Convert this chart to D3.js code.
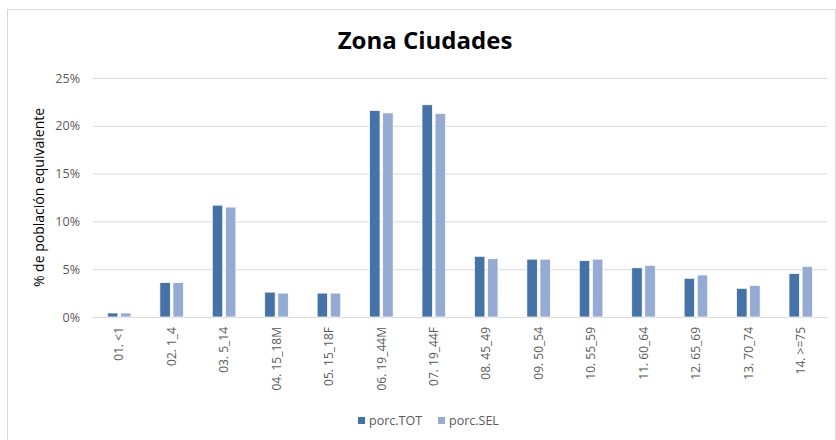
<!DOCTYPE html>
<html>
<head>
<meta charset="utf-8">
<script src="https://cdn.jsdelivr.net/npm/d3@7"></script>
<style>
  body { margin: 0; background: #fff; }
  svg text { font-family: "Open Sans", "Liberation Sans", sans-serif; }
</style>
</head>
<body>
<div class="chart"></div>
<script>
const width = 836;
const height = 440;

const categories = ["01. <1", "02. 1_4", "03. 5_14", "04. 15_18M", "05. 15_18F", "06. 19_44M", "07. 19_44F",
    "08. 45_49", "09. 50_54", "10. 55_59", "11. 60_64", "12. 65_69", "13. 70_74", "14. >=75"];
const porcTOT = [0.42, 3.6, 11.7, 2.6, 2.5, 21.6, 22.2, 6.35, 6.05, 5.9, 5.15, 4.05, 3.0, 4.55];
const porcSEL = [0.42, 3.6, 11.5, 2.5, 2.5, 21.35, 21.3, 6.1, 6.05, 6.05, 5.4, 4.4, 3.3, 5.3];
const seriesNames = ["porc.TOT", "porc.SEL"];
const colors = ["#4573a7", "#95abd3"];
const yTicks = [0, 5, 10, 15, 20, 25];

const margin = {top: 78, right: 9, bottom: 123, left: 93};

let svg = d3.select(".chart")
    .append("svg")
    .attr("width", width)
    .attr("height", height);

// outer frame
svg.append("rect")
    .attr("x", 7.5).attr("y", 9.5)
    .attr("width", width - 8).attr("height", height - 8)
    .attr("fill", "none").attr("stroke", "#d9d9d9");

let x = d3.scaleBand()
    .domain(categories)
    .range([margin.left, width - margin.right]);

let xInner = d3.scaleBand()
    .domain(seriesNames)
    .range([0, x.bandwidth()])
    .paddingInner(0.2)
    .paddingOuter(1.1);

let y = d3.scaleLinear()
    .domain([0, 25])
    .range([height - margin.bottom, margin.top]);

// gridlines
svg.append("g")
    .selectAll("line")
    .data(yTicks)
    .enter()
    .append("line")
    .attr("x1", margin.left)
    .attr("x2", width - margin.right)
    .attr("y1", d => y(d) + 0.5)
    .attr("y2", d => y(d) + 0.5)
    .attr("stroke", "#d9d9d9")
    .attr("stroke-width", 1);

// y axis labels
let yAxis = d3.axisLeft(y)
    .tickValues(yTicks)
    .tickFormat(d => d + "%")
    .tickSize(0)
    .tickPadding(13);

svg.append("g")
    .attr("transform", `translate(${margin.left},0)`)
    .call(yAxis)
    .call(g => g.select(".domain").remove())
    .selectAll("text")
    .attr("font-size", 12.5)
    .attr("fill", "#595959");

// x axis labels
let xAxis = d3.axisBottom(x).tickSize(0).tickPadding(8);

svg.append("g")
    .attr("transform", `translate(0,${y(0)})`)
    .call(xAxis)
    .call(g => g.select(".domain").remove())
    .selectAll("text")
    .attr("font-size", 12)
    .attr("fill", "#595959")
    .attr("text-anchor", "end")
    .attr("transform", "rotate(-90)")
    .attr("x", -10)
    .attr("y", 0)
    .attr("dy", "0.35em");

// bars
let data = categories.map((c, i) => ({cat: c, values: [porcTOT[i], porcSEL[i]]}));

let groups = svg.append("g")
    .selectAll("g")
    .data(data)
    .enter()
    .append("g")
    .attr("transform", d => `translate(${x(d.cat)},0)`);

groups.selectAll("rect")
    .data(d => d.values.map((v, j) => ({name: seriesNames[j], v: v, j: j})))
    .enter()
    .append("rect")
    .attr("x", d => xInner(d.name))
    .attr("width", xInner.bandwidth())
    .attr("y", d => y(d.v))
    .attr("height", d => y(0) - y(d.v))
    .attr("fill", d => colors[d.j])
    .attr("stroke", "#fff")
    .attr("stroke-width", 0.75);

// title
svg.append("text")
    .attr("x", 425)
    .attr("y", 49)
    .attr("text-anchor", "middle")
    .attr("font-size", 24)
    .attr("font-weight", "bold")
    .attr("fill", "#000")
    .text("Zona Ciudades");

// y axis title
svg.append("text")
    .attr("transform", `translate(44,${(y(0) + y(25)) / 2}) rotate(-90)`)
    .attr("text-anchor", "middle")
    .attr("font-size", 14)
    .attr("fill", "#000")
    .text("% de población equivalente");

// legend
let legend = svg.append("g")
    .selectAll("g")
    .data(seriesNames)
    .enter()
    .append("g")
    .attr("transform", (d, i) => `translate(${i === 0 ? 358 : 438},421)`);

legend.append("rect")
    .attr("x", 0).attr("y", -4)
    .attr("width", 7).attr("height", 7)
    .attr("fill", (d, i) => colors[i]);

legend.append("text")
    .attr("x", 11)
    .attr("y", 0)
    .attr("dy", "0.35em")
    .attr("font-size", 12.5)
    .attr("fill", "#595959")
    .text(d => d);
</script>
</body>
</html>
